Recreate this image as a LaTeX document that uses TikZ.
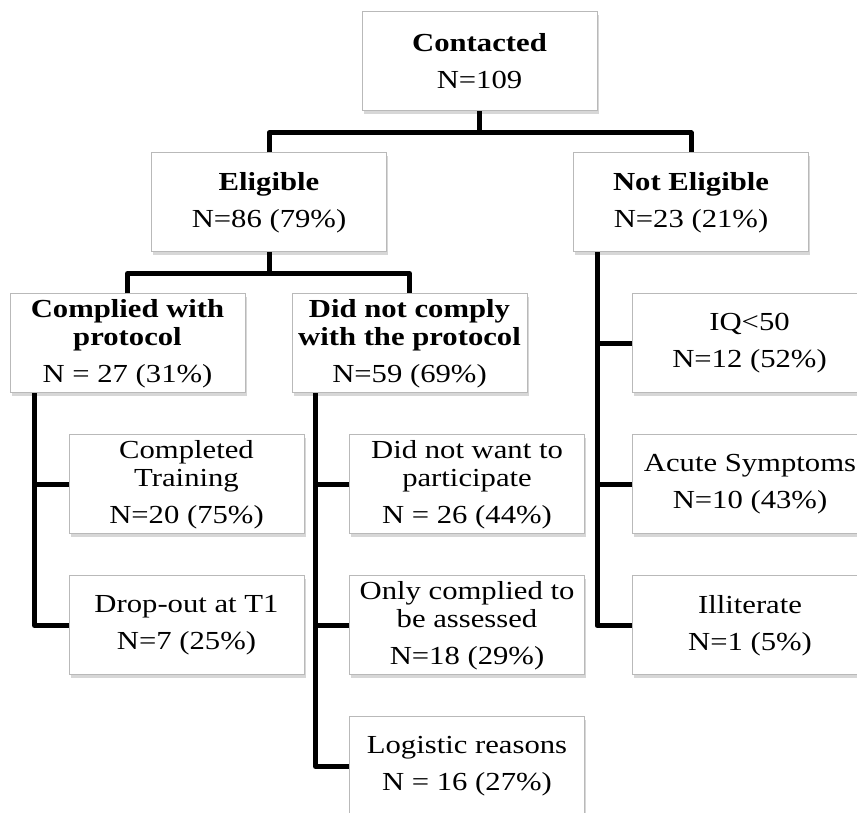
\documentclass[tikz,border=0pt]{standalone}
\usepackage{fontspec}
\setmainfont{Liberation Serif}[FakeStretch=1.18]
\usetikzlibrary{shadows}

\begin{document}
\begin{tikzpicture}[x=1pt,y=1pt,
    box/.style={draw=gray!55,line width=1pt,fill=white,minimum width=235pt,minimum height=99pt,
      align=center,inner sep=0pt,font=\fontsize{26}{28}\selectfont,
      drop shadow={shadow xshift=1.5pt,shadow yshift=-3pt,fill=gray!70,opacity=.45}},
    conn/.style={line width=5pt,line join=round}]
    \useasboundingbox(0,0)rectangle(857,813);

    \node[box](contacted)at(479.5,751.5){\textbf{Contacted}\\[9pt]N=109};
    \node[box](eligible)at(269,610.5){\textbf{Eligible}\\[9pt]N=86 (79\%)};
    \node[box](noteligible)at(691,610.5){\textbf{Not Eligible}\\[9pt]N=23 (21\%)};

    \node[box](complied)at(127.5,469.5){\textbf{Complied with}\\\textbf{protocol}\\[9pt]N = 27 (31\%)};
    \node[box](nocomply)at(409.5,469.5){\textbf{Did not comply}\\\textbf{with the protocol}\\[9pt]N=59 (69\%)};
    \node[box](iq)at(749.5,469.5){IQ<50\\[9pt]N=12 (52\%)};

    \node[box](completed)at(186.5,328.5){Completed\\Training\\[9pt]N=20 (75\%)};
    \node[box](notwant)at(467,328.5){Did not want to\\participate\\[9pt]N = 26 (44\%)};
    \node[box](acute)at(750,328.5){Acute Symptoms\\[9pt]N=10 (43\%)};

    \node[box](dropout)at(186.5,187.5){Drop-out at T1\\[9pt]N=7 (25\%)};
    \node[box](assessed)at(467,187.5){Only complied to\\be assessed\\[9pt]N=18 (29\%)};
    \node[box](illiterate)at(750,187.5){Illiterate\\[9pt]N=1 (5\%)};

    \node[box](logistic)at(467,46.5){Logistic reasons\\[9pt]N = 16 (27\%)};

    % tree lines
    \draw[conn](contacted.south)--++(0,-21.5)coordinate(topbar);
    \draw[conn](eligible.north)|-(topbar)-|(noteligible.north);
    \draw[conn](eligible.south)--++(0,-21)coordinate(eligbar);
    \draw[conn](complied.north)|-(eligbar)-|(nocomply.north);

    \coordinate(lspine)at([xshift=25pt]complied.south west);
    \coordinate(mspine)at([xshift=24pt]nocomply.south west);
    \coordinate(rspine)at([xshift=24pt]noteligible.south west);

    \draw[conn](lspine)|-(dropout.west);
    \draw[conn](completed.west)--(completed.west-|lspine);
    \draw[conn](mspine)|-(logistic.west);
    \draw[conn](notwant.west)--(notwant.west-|mspine);
    \draw[conn](assessed.west)--(assessed.west-|mspine);
    \draw[conn](rspine)|-(illiterate.west);
    \draw[conn](iq.west)--(iq.west-|rspine);
    \draw[conn](acute.west)--(acute.west-|rspine);
\end{tikzpicture}
\end{document}
